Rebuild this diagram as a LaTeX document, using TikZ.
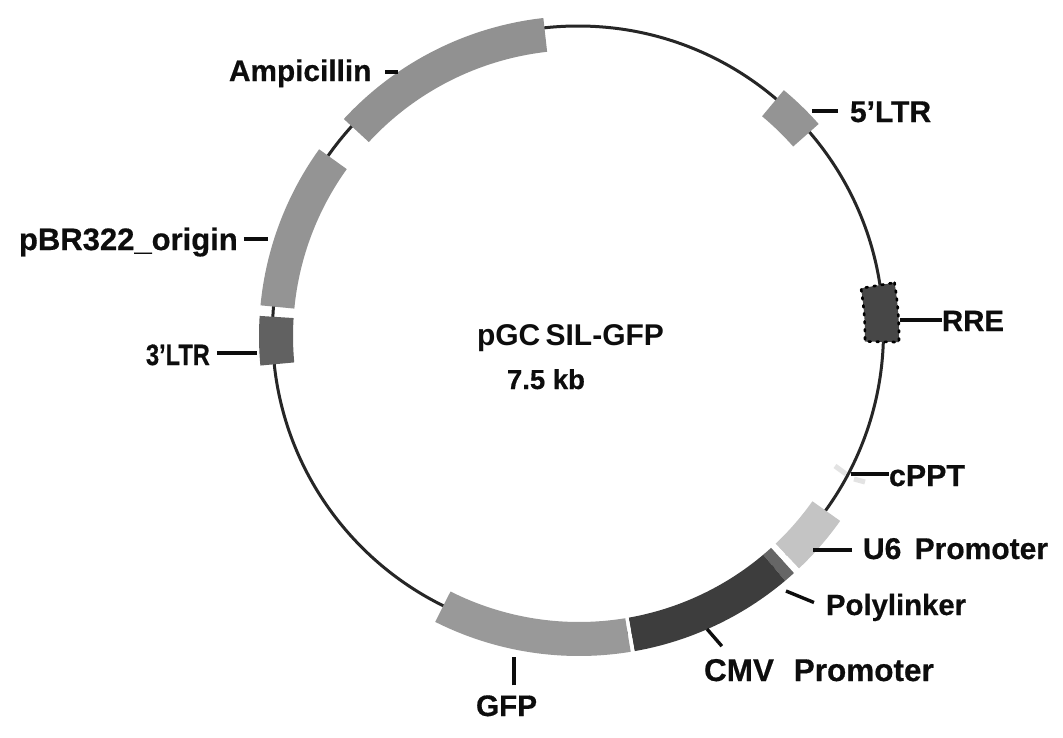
\documentclass[tikz,border=0pt]{standalone}
\usepackage{fontspec}
\setmainfont{Liberation Sans}[BoldFeatures={FakeBold=0.5}]
\newfontfamily\namefont{Liberation Sans Bold}
\usetikzlibrary{calc}
\tikzset{
  every node/.style={inner sep=0pt,outer sep=0pt,text=black!95},
  lab/.style={anchor=base west,font=\bfseries\fontsize{#1}{#1}\selectfont},
  leader/.style={draw=black!95,line width=3.4pt},
  backbone/.style={draw=black!85,line width=3pt}
}
\newcommand{\band}[3]{% start angle, end angle, colour
  \fill[#3] (#1:320pt) arc[start angle=#1,end angle=#2,radius=320pt]
    -- (#2:286pt) arc[start angle=#2,end angle=#1,radius=286pt] -- cycle;}
\begin{document}
\begin{tikzpicture}[x=1pt,y=1pt]
\useasboundingbox (0,0) rectangle (1063,-737);
\fill[white] (0,0) rectangle (1063,-737);
% faint cPPT mark under the backbone
\draw[line width=5pt,color=black!11] (835,-466) -- (846,-474);
\draw[line width=5pt,color=black!11] (854,-479) -- (865,-482);
% backbone
\coordinate (c) at (579,-336);
\coordinate (cb) at (578,-331.5);
\draw[backbone] (cb) circle[radius=305.5pt];
\begin{scope}[shift={(c)}]
  \band{96.4}{137.3}{black!43}
  \band{144.3}{174.5}{black!42}
  \band{176.4}{185.3}{black!62}
  \band{50.2}{41.5}{black!42}
  \band{-35.3}{-46.6}{black!23}
  \fill[white] (-46.6:320pt) arc[start angle=-46.6,end angle=-47.8,radius=320pt] -- (-47.8:286pt) arc[start angle=-47.8,end angle=-46.6,radius=286pt] -- cycle;
  \band{-47.8}{-49.9}{black!60}
  \band{-49.9}{-80.0}{black!76}
  \fill[white] (-80.0:322pt) arc[start angle=-80.0,end angle=-80.7,radius=322pt] -- (-80.7:284pt) arc[start angle=-80.7,end angle=-80.0,radius=284pt] -- cycle;
  \band{-80.7}{-116.7}{black!40}
  \band{9.6}{-1.1}{black!72}
  \draw[black,line width=2.6pt,dash pattern=on 2pt off 6pt,line cap=round]
    (9.6:320pt) arc[start angle=9.6,end angle=-1.1,radius=320pt]
    -- (-1.1:286pt) arc[start angle=-1.1,end angle=9.6,radius=286pt] -- cycle;
\end{scope}
% labels
\node[lab=29.8] (lAmp) at (229,-81) {Ampicillin};
\node[lab=30] (lFive) at (850,-122) {5’LTR};
\node[lab=29.4] (lRRE) at (942,-331) {RRE};
\node[lab=30.4] (lcPPT) at (889,-486) {cPPT};
\node[lab=30] (lUsix) at (863,-559) {U6\hspace{5pt} Promoter};
\node[lab=29.3] (lPoly) at (826,-615) {Polylinker};
\node[lab=31.5] (lCMV) at (704,-681) {CMV\hspace{11pt} Promoter};
\node[lab=29.7] (lGFP) at (476,-716) {GFP};
\node[lab=29.5] (lThree) at (146,-365) {\scalebox{0.8}[1]{3’LTR}};
\node[lab=31] (lOri) at (19,-250) {pBR322\_origin};
\node[anchor=base west,font=\namefont\fontsize{30}{30}\selectfont] (lName) at (477,-345) {pGC\hspace{-3pt} SIL-GFP};
\node[lab=27.5] (lSize) at (507,-389) {7.5 kb};
% leader ends on the map
\coordinate (eAmp) at (398,-72);
\coordinate (eFive) at (812,-111);
\coordinate (eRRE) at (900,-320);
\coordinate (ecPPT) at (851,-474);
\coordinate (eUsix) at (813,-550);
\coordinate (ePoly) at (786,-591);
\coordinate (eCMV) at (707,-629);
\coordinate (eGFP) at (514,-657);
\coordinate (eThree) at (257,-353);
\coordinate (eOri) at (268,-239);
% leaders
\draw[leader,shorten <=14pt] (lAmp.east |- eAmp) -- (eAmp);
\draw[leader,shorten <=12pt] (lFive.west |- eFive) -- (eFive);
\draw[leader] (lRRE.west |- eRRE) -- (eRRE);
\draw[leader] (lcPPT.west |- ecPPT) -- (ecPPT);
\draw[leader,shorten <=11pt] (lUsix.west |- eUsix) -- (eUsix);
\draw[leader,shorten <=13pt] (lPoly.west) -- (ePoly);
\draw[leader,shorten <=17pt] ($(lCMV.north west)+(29,0)$) -- (eCMV);
\draw[leader,shorten <=10pt] (lGFP.north -| eGFP) -- (eGFP);
\draw[leader,shorten <=7pt] (lThree.east |- eThree) -- (eThree);
\draw[leader,shorten <=6pt] (lOri.east |- eOri) -- (eOri);
\end{tikzpicture}
\end{document}
